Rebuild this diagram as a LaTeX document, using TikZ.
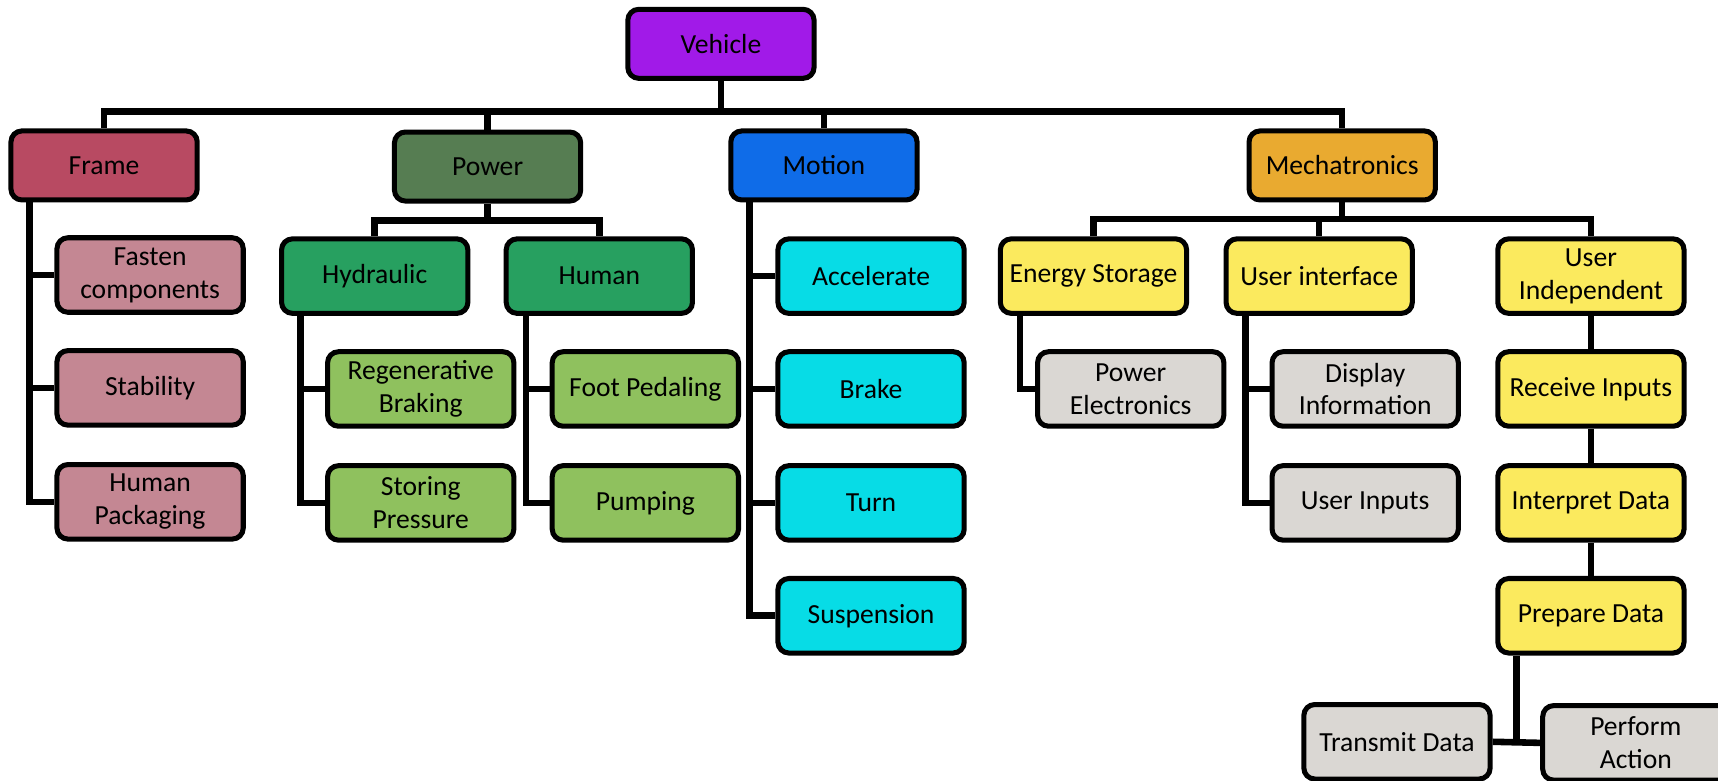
\documentclass[tikz,border=0pt]{standalone}
\usepackage{fontspec}
\setmainfont{Carlito}
\definecolor{cveh}{RGB}{161,26,232}
\definecolor{cframe}{RGB}{184,74,98}
\definecolor{cframek}{RGB}{196,135,147}
\definecolor{cpow}{RGB}{86,125,82}
\definecolor{cpowm}{RGB}{39,160,96}
\definecolor{cpowk}{RGB}{143,193,94}
\definecolor{cmot}{RGB}{15,108,232}
\definecolor{cmotk}{RGB}{7,220,230}
\definecolor{cmech}{RGB}{233,170,48}
\definecolor{cyel}{RGB}{251,234,94}
\definecolor{cgray}{RGB}{218,215,211}
\begin{document}
\begin{tikzpicture}[x=0.5pt,y=-0.5pt,
  box/.style={draw=black,line width=2.3pt,rounded corners=5pt,minimum width=85pt,minimum height=34pt,
    align=center,inner sep=1pt,font=\fontsize{12.6}{15}\selectfont},
  topbox/.style={box,minimum height=31.5pt},
  link/.style={draw=black,line width=3pt}]
\useasboundingbox (0,0) rectangle (1568,712);
% nodes
\node[topbox,fill=cveh] (veh) at (658,40) {Vehicle};
\node[topbox,fill=cframe] (frame) at (95,151) {Frame};
\node[topbox,fill=cpow] (pow) at (445,152) {Power};
\node[topbox,fill=cmot] (mot) at (752,151) {Motion};
\node[topbox,fill=cmech] (mech) at (1225,151) {Mechatronics};
% frame
\node[box,fill=cframek] (fasten) at (137,251) {Fasten\\components};
\node[box,fill=cframek] (stab) at (137,354) {Stability};
\node[box,fill=cframek] (hpack) at (137,458) {Human\\Packaging};
% power
\node[box,fill=cpowm] (hyd) at (342,252) {Hydraulic};
\node[box,fill=cpowm] (hum) at (547,252) {Human};
\node[box,fill=cpowk] (regen) at (384,355) {Regenerative\\Braking};
\node[box,fill=cpowk] (store) at (384,459) {Storing\\Pressure};
\node[box,fill=cpowk] (foot) at (589,355) {Foot Pedaling};
\node[box,fill=cpowk] (pump) at (589,459) {Pumping};
% motion
\node[box,fill=cmotk] (acc) at (795,252) {Accelerate};
\node[box,fill=cmotk] (brake) at (795,355) {Brake};
\node[box,fill=cmotk] (turn) at (795,459) {Turn};
\node[box,fill=cmotk] (susp) at (795,562) {Suspension};
% mechatronics
\node[box,fill=cyel] (es) at (998,252) {Energy Storage};
\node[box,fill=cyel] (ui) at (1204,252) {User interface};
\node[box,fill=cyel] (uind) at (1452,252) {User\\Independent};
\node[box,fill=cgray] (pe) at (1032,355) {Power\\Electronics};
\node[box,fill=cgray] (disp) at (1246,355) {Display\\Information};
\node[box,fill=cgray] (uin) at (1246,459) {User Inputs};
\node[box,fill=cyel] (rin) at (1452,355) {Receive Inputs};
\node[box,fill=cyel] (intd) at (1452,459) {Interpret Data};
\node[box,fill=cyel] (prep) at (1452,562) {Prepare Data};
\node[box,fill=cgray] (trans) at (1275,677) {Transmit Data};
\node[box,fill=cgray] (perf) at (1493,678) {Perform\\Action};
% coordinates
\coordinate (bus) at (658,102);
\coordinate (pbus) at (445,201);
\coordinate (mbus) at (1225,200);
\coordinate (frl) at (27,182);
\coordinate (hyl) at (274,285);
\coordinate (hul) at (480,285);
\coordinate (mol) at (684,183);
\coordinate (esl) at (931,285);
\coordinate (uil) at (1137,285);
\coordinate (pj) at (1384,677);
% connectors
\draw[link] (veh.south) -- (bus);
\draw[link] (frame.north) -- (frame.north|-bus) -- (mech.north|-bus) -- (mech.north);
\draw[link] (pow.north) -- (pow.north|-bus);
\draw[link] (mot.north) -- (mot.north|-bus);
\draw[link] (frl) |- (fasten.west);
\draw[link] (frl) |- (stab.west);
\draw[link] (frl) |- (hpack.west);
\draw[link] (pow.south) -- (pbus);
\draw[link] (hyd.north) -- (hyd.north|-pbus) -- (hum.north|-pbus) -- (hum.north);
\draw[link] (hyl) |- (regen.west);
\draw[link] (hyl) |- (store.west);
\draw[link] (hul) |- (foot.west);
\draw[link] (hul) |- (pump.west);
\draw[link] (mol) |- (acc.west);
\draw[link] (mol) |- (brake.west);
\draw[link] (mol) |- (turn.west);
\draw[link] (mol) |- (susp.west);
\draw[link] (mech.south) -- (mbus);
\draw[link] (es.north) -- (es.north|-mbus) -- (uind.north|-mbus) -- (uind.north);
\draw[link] (ui.north) -- (ui.north|-mbus);
\draw[link] (esl) |- (pe.west);
\draw[link] (uil) |- (disp.west);
\draw[link] (uil) |- (uin.west);
\draw[link] (uind.south) -- (rin.north);
\draw[link] (rin.south) -- (intd.north);
\draw[link] (intd.south) -- (prep.north);
\draw[link] (prep.south-|pj) -- (pj);
\draw[link] (trans.east) -- (perf.west);
\end{tikzpicture}
\end{document}
